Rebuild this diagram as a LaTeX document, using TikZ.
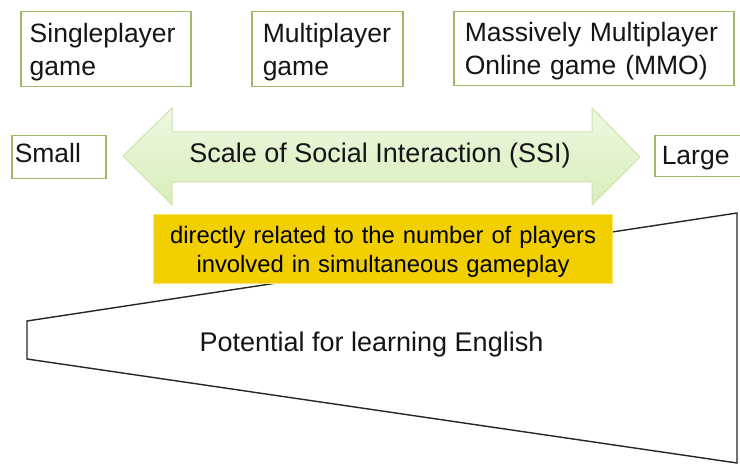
\documentclass[tikz,border=0pt]{standalone}
\usepackage{fontspec}
\setmainfont{Liberation Sans}
\definecolor{olivebd}{HTML}{9EBA66}
\definecolor{txt}{HTML}{151515}
\definecolor{yfill}{HTML}{F2D000}
\definecolor{ybd}{HTML}{FBE46E}
\definecolor{gtop}{HTML}{EEF8E0}
\definecolor{gbot}{HTML}{D8EEBB}
\definecolor{gbd}{HTML}{CDE3AC}
\tikzset{
  gbox/.style={draw=olivebd, line width=1.5pt, fill=white, anchor=north west,
    align=left, inner ysep=0pt, text=txt,
    execute at begin node={\hyphenpenalty=10000\relax\hbadness=10000\relax\hfuzz=100pt\relax},
    font=\fontsize{26.5}{33}\selectfont},
  ybox/.style={draw=ybd, line width=1.2pt, fill=yfill, anchor=north west,
    align=center, inner sep=0pt, text=black,
    font=\fontsize{23.8}{29}\selectfont},
  plain/.style={text=txt, inner sep=0pt, anchor=base, font=\fontsize{27}{33}\selectfont},
  funnel/.style={draw=black!85, line width=1.4pt, line join=miter}
}
\begin{document}
\begin{tikzpicture}[x=1pt,y=-1pt]
\clip (0,0) rectangle (740,465);
\fill[white] (0,0) rectangle (740,465);

% funnel
\coordinate (f1) at (27,321);
\coordinate (f2) at (737,213);
\coordinate (f3) at (737,463);
\coordinate (f4) at (27,359);
\draw[funnel] (f1) -- (f2) -- (f3) -- (f4) -- cycle;
\node[plain] (pot) at (371.5,352) {Potential for learning English};

% top boxes
\node[gbox, inner xsep=9pt, text width=152pt, text height=31pt, text depth=44pt] (single) at (20,11) {Singleplayer\\game};
\node[gbox, inner xsep=11pt, text width=129pt, text height=30.5pt, text depth=44.5pt] (multi) at (251,11) {Multiplayer\\game};
\node[gbox, inner xsep=11pt, text width=258pt, text height=30pt, text depth=44pt] (mmo) at (453,11) {Massively Multiplayer\\Online game (MMO)};

% small / large
\node[gbox, inner xsep=3pt, text width=88pt, text height=27pt, text depth=16pt] (small) at (11,135) {Small};
\node[gbox, inner xsep=7pt, text width=86pt, text height=29pt, text depth=12pt] (large) at (654,135) {Large};

% double arrow
\path[draw=gbd, line width=1pt, top color=gtop, bottom color=gbot]
  (123,156) -- (172,108) -- (172,132) -- (592,132) -- (592,108) -- (640,157)
  -- (592,205) -- (592,182) -- (172,182) -- (172,205) -- cycle;
\node[plain] (ssi) at (380,163) {Scale of Social Interaction (SSI)};

% yellow note
\node[ybox, text width=459pt, text height=29pt, text depth=40pt] (note) at (153,214)
  {directly related to the number of players\\involved in simultaneous gameplay};
\end{tikzpicture}
\end{document}
